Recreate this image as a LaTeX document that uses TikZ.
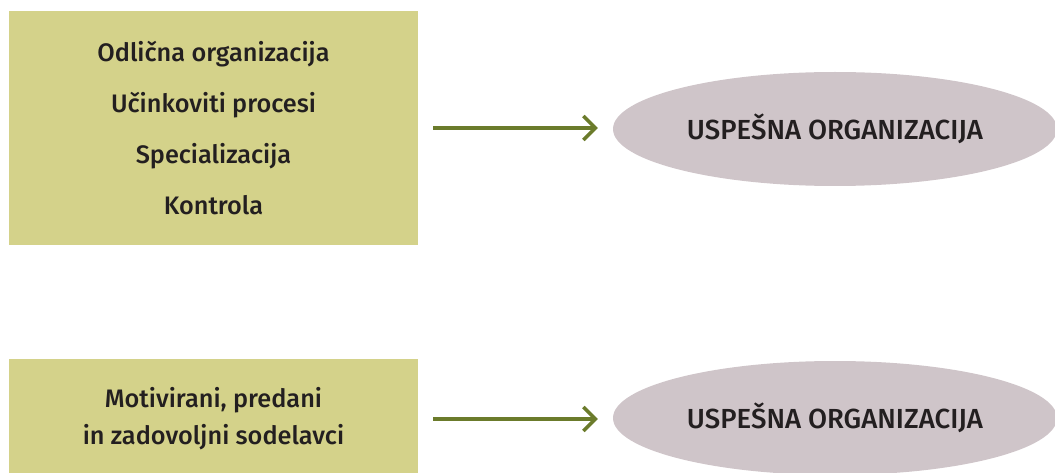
\documentclass[tikz,border=0pt]{standalone}
\usepackage{fontspec}
\setmainfont{Fira Sans}[UprightFont=* Medium]
\usetikzlibrary{arrows.meta,shapes.geometric}
\definecolor{boxfill}{HTML}{D4D28A}
\definecolor{ovalfill}{HTML}{CFC5C9}
\definecolor{arrowcol}{HTML}{6B7B2B}
\definecolor{textcol}{HTML}{231F20}
\begin{document}
\begin{tikzpicture}[x=1pt,y=1pt,
  factorbox/.style={rectangle,fill=boxfill,minimum width=409pt,inner sep=0pt,
    align=center,text=textcol},
  resultoval/.style={ellipse,fill=ovalfill,minimum width=444pt,minimum height=114pt,
    inner sep=0pt,text=textcol,font=\fontsize{27.6}{32}\selectfont},
  flow/.style={draw=arrowcol,line width=4pt,
    -{Straight Barb[length=12pt,width=24pt,line width=3.5pt]},
    shorten <=15pt,shorten >=15pt}]
  \useasboundingbox (0,0) rectangle (1055,472);
  \clip (0,0) rectangle (1055,472);
  % upper row
  \node[factorbox,minimum height=234pt,font=\fontsize{25.3}{51}\selectfont]
    (organisation) at (213.5,344)
    {Odlična organizacija\\Učinkoviti procesi\\Specializacija\\Kontrola};
  \node[resultoval] (successtop) at (835,343) {USPEŠNA ORGANIZACIJA};
  \draw[flow] (organisation.east) -- (organisation.east -| successtop.west);
  % lower row
  \node[factorbox,minimum height=120pt,font=\fontsize{25.3}{37}\selectfont]
    (people) at (213.5,53)
    {Motivirani, predani\\in zadovoljni sodelavci};
  \node[resultoval] (successbottom) at (835,54) {USPEŠNA ORGANIZACIJA};
  \draw[flow] (people.east) -- (people.east -| successbottom.west);
\end{tikzpicture}
\end{document}
